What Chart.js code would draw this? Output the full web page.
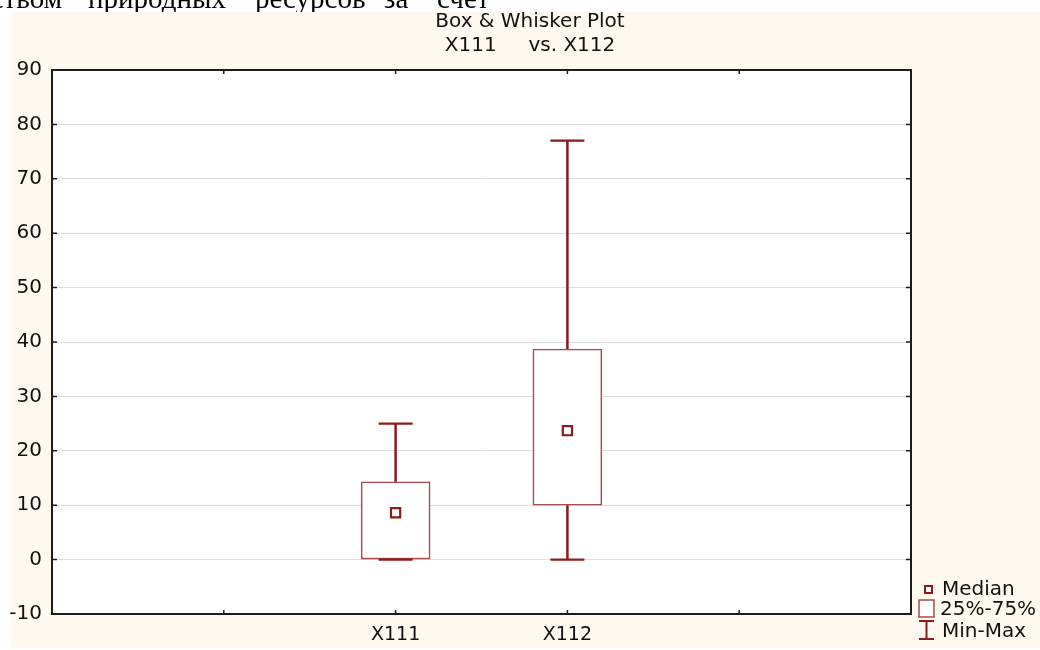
<!DOCTYPE html>
<html>
<head>
<meta charset="utf-8">
<script src="https://cdn.jsdelivr.net/npm/chart.js@4.4.1/dist/chart.umd.min.js"></script>
<style>
  html, body { margin: 0; padding: 0; background: #ffffff; }
  #wrap { width: 1040px; height: 650px; position: relative; }
</style>
</head>
<body>
<div id="wrap"><canvas id="c" width="1040" height="650"></canvas></div>
<script>
// ---- data ----
const slotLabels = ['', '', 'X111', 'X112', '', ''];
const variables = ['X111', 'X112'];
const minValues = [0, 0];
const q1Values = [0, 10];
const medianValues = [8.6, 23.7];
const q3Values = [14.3, 38.7];
const maxValues = [25, 77];
const yTickValues = [-10, 0, 10, 20, 30, 40, 50, 60, 70, 80, 90];
const titleLines = ['Box & Whisker Plot', 'X111     vs. X112'];
const legendLabels = ['Median', '25%-75%', 'Min-Max'];
const headerWords = ['тством', 'природных', 'ресурсов', 'за', 'счет'];

// ---- styles ----
const DARK_RED = '#8b1a1a';
const BOX_RED = '#a84a4a';
const CREAM = '#fef9ee';
const FONT = '"DejaVu Sans", "Liberation Sans", Arial, sans-serif';

function slotData(values) {
  return slotLabels.map(l => {
    const i = variables.indexOf(l);
    return i >= 0 ? values(i) : null;
  });
}

const boxData = slotData(i => [q1Values[i], q3Values[i]]);
const medianData = slotData(i => medianValues[i]);

const decorPlugin = {
  id: 'decor',
  beforeDraw(chart) {
    const ctx = chart.ctx;
    ctx.save();
    ctx.fillStyle = '#ffffff';
    ctx.fillRect(0, 0, chart.width, chart.height);
    // cut-off document text above the chart
    ctx.fillStyle = '#000000';
    ctx.font = '29px "Liberation Serif", "Times New Roman", serif';
    ctx.textBaseline = 'alphabetic';
    const starts = [null, 88, 255, 384, 437];
    headerWords.forEach((w, k) => {
      if (k === 0) { ctx.textAlign = 'right'; ctx.fillText(w, 62, 8); }
      else { ctx.textAlign = 'left'; ctx.fillText(w, starts[k], 8); }
    });
    ctx.fillStyle = CREAM;
    ctx.fillRect(11, 12, chart.width - 11, chart.height - 14);
    // plot area white
    const a = chart.chartArea;
    ctx.fillStyle = '#ffffff';
    ctx.fillRect(a.left, a.top, a.right - a.left, a.bottom - a.top);
    // title
    ctx.fillStyle = '#111111';
    ctx.font = '20px ' + FONT;
    ctx.textAlign = 'center';
    ctx.textBaseline = 'middle';
    ctx.fillText(titleLines[0], 530, 22);
    ctx.fillText(titleLines[1], 530, 46);
    ctx.restore();
  },
  afterDatasetsDraw(chart) {
    const ctx = chart.ctx;
    const xs = chart.scales.x, ys = chart.scales.y;
    ctx.save();
    ctx.strokeStyle = DARK_RED;
    ctx.lineCap = 'butt';
    variables.forEach((v, i) => {
      const px = xs.getPixelForValue(slotLabels.indexOf(v));
      const yMin = ys.getPixelForValue(minValues[i]);
      const yQ1 = ys.getPixelForValue(q1Values[i]);
      const yQ3 = ys.getPixelForValue(q3Values[i]);
      const yMax = ys.getPixelForValue(maxValues[i]);
      ctx.lineWidth = 2.5;
      ctx.beginPath();
      ctx.moveTo(px, yMin); ctx.lineTo(px, yQ1);
      ctx.moveTo(px, yQ3); ctx.lineTo(px, yMax);
      ctx.stroke();
      ctx.lineWidth = 2.2;
      ctx.beginPath();
      ctx.moveTo(px - 17, yMin); ctx.lineTo(px + 17, yMin);
      ctx.moveTo(px - 17, yMax); ctx.lineTo(px + 17, yMax);
      ctx.stroke();
    });
    ctx.restore();
  },
  afterDraw(chart) {
    const ctx = chart.ctx;
    const a = chart.chartArea;
    const xs = chart.scales.x, ys = chart.scales.y;
    ctx.save();
    // frame
    ctx.strokeStyle = '#1c1c1c';
    ctx.lineWidth = 2;
    ctx.strokeRect(a.left, a.top, a.right - a.left, a.bottom - a.top);
    // inward ticks
    ctx.lineWidth = 1.5;
    ctx.beginPath();
    yTickValues.forEach(v => {
      const py = ys.getPixelForValue(v);
      ctx.moveTo(a.left, py); ctx.lineTo(a.left + 5, py);
      ctx.moveTo(a.right, py); ctx.lineTo(a.right - 5, py);
    });
    for (let k = 1; k < slotLabels.length - 1; k++) {
      const px = xs.getPixelForValue(k);
      ctx.moveTo(px, a.bottom); ctx.lineTo(px, a.bottom - 4);
      ctx.moveTo(px, a.top); ctx.lineTo(px, a.top + 4);
    }
    ctx.stroke();

    // legend
    ctx.font = '20px ' + FONT;
    ctx.textAlign = 'left';
    ctx.textBaseline = 'middle';
    // median symbol
    ctx.strokeStyle = DARK_RED;
    ctx.lineWidth = 2;
    ctx.fillStyle = '#ffffff';
    ctx.fillRect(925, 586, 7, 7);
    ctx.strokeRect(925, 586, 7, 7);
    // box symbol
    ctx.strokeStyle = BOX_RED;
    ctx.lineWidth = 1.5;
    ctx.fillRect(919, 600, 15, 17);
    ctx.strokeRect(919, 600, 15, 17);
    // min-max symbol
    ctx.strokeStyle = DARK_RED;
    ctx.lineWidth = 2;
    ctx.beginPath();
    ctx.moveTo(926.5, 621); ctx.lineTo(926.5, 639);
    ctx.moveTo(919, 621); ctx.lineTo(934, 621);
    ctx.moveTo(919, 639); ctx.lineTo(934, 639);
    ctx.stroke();
    ctx.fillStyle = '#111111';
    ctx.fillText(legendLabels[0], 942, 590);
    ctx.fillText(legendLabels[1], 940, 610);
    ctx.fillText(legendLabels[2], 942, 632);
    ctx.restore();
  }
};

new Chart(document.getElementById('c'), {
  data: {
    labels: slotLabels,
    datasets: [
      {
        type: 'bar',
        label: '25%-75%',
        data: boxData,
        backgroundColor: '#ffffff',
        borderColor: BOX_RED,
        borderWidth: 1.6,
        borderSkipped: false,
        barThickness: 69,
        order: 2
      },
      {
        type: 'line',
        label: 'Median',
        data: medianData,
        showLine: false,
        pointStyle: 'rect',
        pointRadius: 6.5,
        pointBorderWidth: 2.2,
        pointBackgroundColor: '#ffffff',
        pointBorderColor: DARK_RED,
        order: 1
      }
    ]
  },
  options: {
    responsive: false,
    devicePixelRatio: 1,
    animation: false,
    layout: { padding: { top: 70, right: 129, bottom: 0, left: 0 } },
    plugins: {
      legend: { display: false },
      title: { display: false },
      tooltip: { enabled: false }
    },
    scales: {
      x: {
        type: 'category',
        offset: false,
        grid: { display: false, drawTicks: false },
        border: { display: false },
        ticks: {
          autoSkip: false, maxRotation: 0, minRotation: 0,
          padding: 10,
          color: '#111111',
          font: { family: FONT, size: 19 }
        },
        afterFit(s) { s.height = 36; }
      },
      y: {
        type: 'linear',
        min: yTickValues[0],
        max: yTickValues[yTickValues.length - 1],
        afterBuildTicks(s) { s.ticks = yTickValues.map(v => ({ value: v })); },
        grid: { color: '#dedede', lineWidth: 1, drawTicks: false },
        border: { display: false },
        ticks: {
          padding: 10,
          color: '#111111',
          font: { family: FONT, size: 20 }
        },
        afterFit(s) { s.width = 52; }
      }
    }
  },
  plugins: [decorPlugin]
});
</script>
</body>
</html>
